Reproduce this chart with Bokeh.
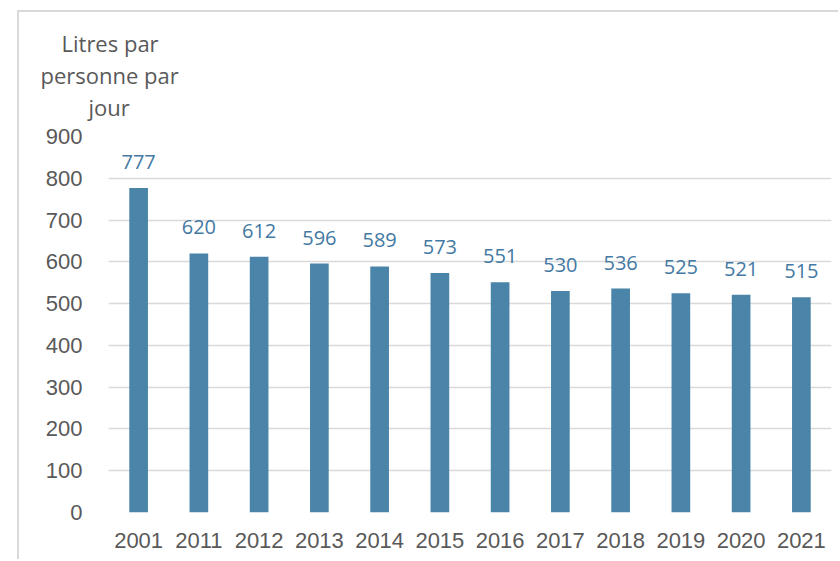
from bokeh.plotting import figure
from bokeh.models import FactorRange, Range1d, Title, ColumnDataSource, SingleIntervalTicker
from bokeh.core.properties import value
from bokeh.embed import file_html
from bokeh.resources import INLINE

years = ["2001", "2011", "2012", "2013", "2014", "2015", "2016", "2017", "2018", "2019", "2020", "2021"]
litres = [777, 620, 612, 596, 589, 573, 551, 530, 536, 525, 521, 515]
title_lines = ["Litres par", "personne par", "jour"]

src = ColumnDataSource(dict(x=years, y=litres, t=[str(v) for v in litres]))

p = figure(width=821, height=549, output_backend="svg", toolbar_location=None,
           x_range=FactorRange(*years, range_padding=0), y_range=Range1d(0, 900),
           min_border_left=89, min_border_right=9, min_border_top=124, min_border_bottom=49)
p.styles = {"margin-left": "17px", "margin-top": "10px",
            "border-left": "2px solid #d9d9d9", "border-top": "2px solid #d9d9d9"}
p.outline_line_color = None
p.background_fill_color = "white"
p.border_fill_color = "white"

p.vbar(x="x", top="y", width=0.31, source=src, fill_color="#4A84A9", line_color=None)
p.text(x="x", y="y", text="t", source=src, text_align="center", text_baseline="middle",
       y_offset=-26, text_font=value("Open Sans"), text_font_size="20px", text_color="#4379A3")

p.yaxis.ticker = SingleIntervalTicker(interval=100)
for ax in (p.xaxis[0], p.yaxis[0]):
    ax.axis_line_color = None
    ax.major_tick_line_color = None
    ax.minor_tick_line_color = None
    ax.major_label_text_font = "Liberation Sans"
    ax.major_label_text_font_size = "22px"
    ax.major_label_text_color = "#595959"
p.yaxis.major_label_standoff = 20
p.xaxis.major_label_standoff = 14
p.xgrid.grid_line_color = None
p.ygrid.grid_line_color = "#d9d9d9"
p.ygrid.grid_line_width = 1.5

# small spacer between the plot frame and the unit label
p.add_layout(Title(text=" ", text_font_size="8px", standoff=4), "above")
offsets = [-47, -68, -20]
for line, off in zip(reversed(title_lines), reversed(offsets)):
    p.add_layout(Title(text=line, align="left", offset=off,
                       text_font="Open Sans", text_font_size="22px", text_font_style="normal",
                       text_color="#595959", standoff=0), "above")

open("out.html", "w").write(file_html(p, INLINE))
